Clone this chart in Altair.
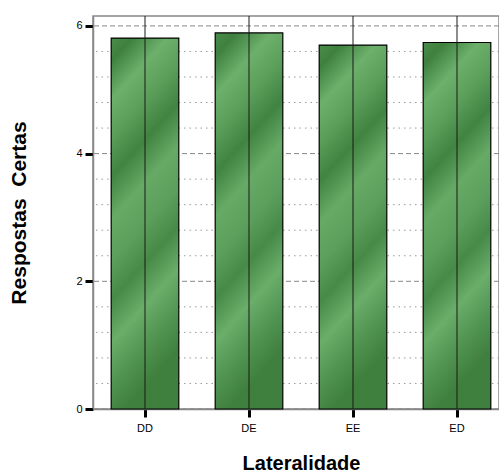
import altair as alt
import pandas as pd

categories = ["DD", "DE", "EE", "ED"]
values = [5.81, 5.89, 5.70, 5.74]
major_ticks = [0, 2, 4, 6]
minor_ticks = [0.4, 0.8, 1.2, 1.6, 2.4, 2.8, 3.2, 3.6, 4.4, 4.8, 5.2, 5.6]
y_max = 6.155

bars_df = pd.DataFrame({"cat": categories, "val": values, "top": [y_max] * len(categories)})
major_df = pd.DataFrame({"v": major_ticks})
minor_df = pd.DataFrame({"v": minor_ticks})

FONT = "Liberation Sans"

yscale = alt.Scale(domain=[0, y_max], nice=False, zero=True)
xscale = alt.Scale(domain=categories, range=[0, 416], paddingInner=0.35, paddingOuter=0.175)

yaxis = alt.Axis(
    values=major_ticks, grid=False, title="Respostas\u00a0 Certas",
    titleFont=FONT, titleFontSize=21, titleFontWeight="bold", titleColor="black",
    titlePadding=46, labelFont=FONT, labelFontSize=11, labelColor="black",
    labelPadding=3, tickColor="black", tickWidth=3, tickSize=8,
    domainColor="#888888", domainWidth=1.5,
)
xaxis = alt.Axis(
    title="Lateralidade", titleFont=FONT, titleFontSize=20, titleFontWeight="bold",
    titleColor="black", titlePadding=20, labelFont=FONT, labelFontSize=11,
    labelColor="black", labelPadding=5, labelAngle=0, tickColor="black",
    tickWidth=3, tickSize=8, domainColor="#888888", domainWidth=1.5,
)

minor = alt.Chart(minor_df).mark_rule(color="#999999", strokeDash=[1.5, 4], strokeWidth=1).encode(
    y=alt.Y("v:Q", scale=yscale, axis=yaxis)
)
major = alt.Chart(major_df).mark_rule(color="#888888", strokeDash=[5, 3], strokeWidth=1).encode(
    y=alt.Y("v:Q", scale=yscale, axis=yaxis)
)

green = alt.Gradient(
    gradient="linear", x1=0, y1=0, x2=0.2, y2=1,
    stops=[
        alt.GradientStop(color="#4a8c4a", offset=0.0),
        alt.GradientStop(color="#3f803f", offset=0.06),
        alt.GradientStop(color="#6cb06c", offset=0.16),
        alt.GradientStop(color="#5a9e5a", offset=0.26),
        alt.GradientStop(color="#418341", offset=0.36),
        alt.GradientStop(color="#66aa66", offset=0.47),
        alt.GradientStop(color="#5c9f5c", offset=0.58),
        alt.GradientStop(color="#478947", offset=0.68),
        alt.GradientStop(color="#6aae6a", offset=0.79),
        alt.GradientStop(color="#519351", offset=0.9),
        alt.GradientStop(color="#3f803f", offset=1.0),
    ],
)

bars = alt.Chart(bars_df).mark_bar(fill=green, stroke="black", strokeWidth=1.2).encode(
    x=alt.X("cat:N", scale=xscale, axis=xaxis, sort=categories),
    y=alt.Y("val:Q", scale=yscale, axis=yaxis),
)

lines = alt.Chart(bars_df).mark_rule(color="#1a1a1a", strokeWidth=1).encode(
    x=alt.X("cat:N", scale=xscale, axis=xaxis, sort=categories),
    y=alt.Y("top:Q", scale=yscale, axis=yaxis),
    y2=alt.datum(0),
)

chart = alt.layer(minor, major, bars, lines).properties(
    width=406, height=393,
    autosize=alt.AutoSizeParams(type="none"),
    padding={"left": 93, "top": 16, "right": 0, "bottom": 65},
    background="white",
).configure_view(stroke="#888888", strokeWidth=1.5)

chart.save("out.html", embed_options={"renderer": "svg", "actions": False})
